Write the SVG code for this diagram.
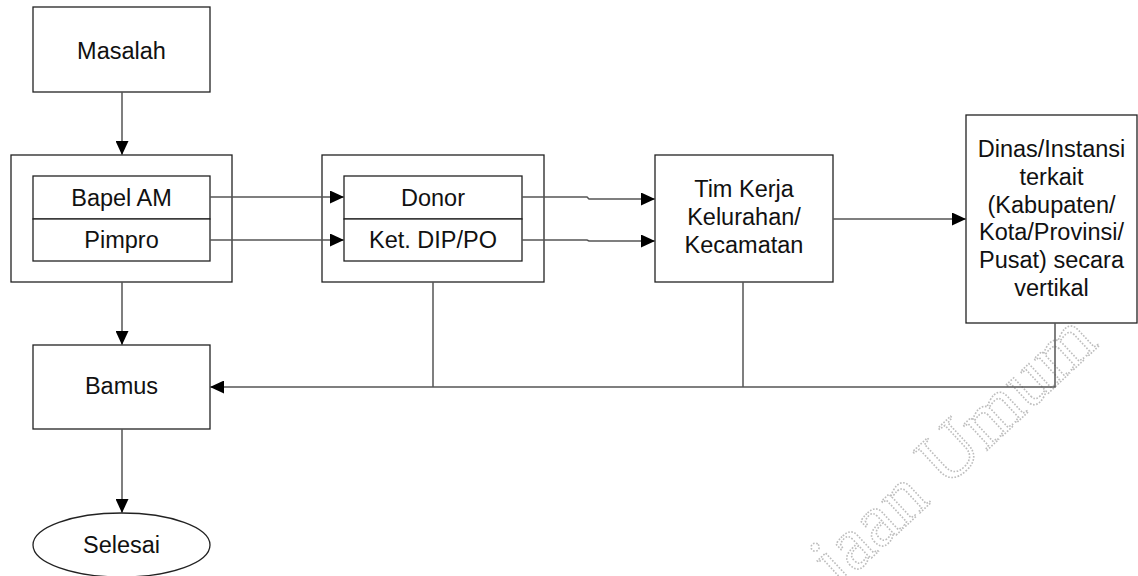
<svg xmlns="http://www.w3.org/2000/svg" width="1138" height="576" viewBox="0 0 1138 576">
<style>
.box{fill:#fff;stroke:#222;stroke-width:1.3}
.t{font-family:"Liberation Sans",Arial,sans-serif;font-size:23.5px;fill:#111;text-anchor:middle}
.c{fill:none;stroke:#555;stroke-width:1.5}
.wm{font-family:"Liberation Serif","Times New Roman",serif;font-size:76px;fill:none;stroke:#bdbdbd;stroke-width:1.6;stroke-dasharray:1.6 1.6}
</style>
<defs>
<marker id="ah" markerUnits="userSpaceOnUse" markerWidth="14" markerHeight="13" refX="14" refY="6.5" orient="auto">
<path d="M0,0 L14,6.5 L0,13 z" fill="#000"/>
</marker>
</defs>
<rect width="1138" height="576" fill="#fff"/>
<text class="wm" transform="translate(1100,345) rotate(-43)" text-anchor="end">jaan Umum</text>
<g id="masalah">
<rect class="box" x="33" y="7" width="177" height="85"/>
<text class="t" x="121.5" y="59">Masalah</text>
</g>
<g id="group-bapel">
<rect class="box" x="11" y="155" width="221" height="127"/>
<g id="bapel">
<rect class="box" x="33" y="176" width="177" height="43"/>
<text class="t" x="121.5" y="206">Bapel AM</text>
</g>
<g id="pimpro">
<rect class="box" x="33" y="219" width="177" height="42"/>
<text class="t" x="121.5" y="248">Pimpro</text>
</g>
</g>
<g id="group-donor">
<rect class="box" x="322" y="155" width="222" height="127"/>
<g id="donor">
<rect class="box" x="344" y="176" width="178" height="43"/>
<text class="t" x="433" y="206">Donor</text>
</g>
<g id="ketdip">
<rect class="box" x="344" y="219" width="178" height="42"/>
<text class="t" x="433" y="248">Ket. DIP/PO</text>
</g>
</g>
<g id="timkerja">
<rect class="box" x="655" y="155" width="178" height="127"/>
<text class="t" x="744" y="197">Tim Kerja</text>
<text class="t" x="744" y="225">Kelurahan/</text>
<text class="t" x="744" y="253">Kecamatan</text>
</g>
<g id="dinas">
<rect class="box" x="966" y="115" width="171" height="208"/>
<text class="t" x="1051.5" y="157">Dinas/Instansi</text>
<text class="t" x="1051.5" y="185">terkait</text>
<text class="t" x="1051.5" y="213">(Kabupaten/</text>
<text class="t" x="1051.5" y="240">Kota/Provinsi/</text>
<text class="t" x="1051.5" y="268">Pusat) secara</text>
<text class="t" x="1051.5" y="296">vertikal</text>
</g>
<g id="bamus">
<rect class="box" x="33" y="345" width="177" height="84"/>
<text class="t" x="121.5" y="394">Bamus</text>
</g>
<g id="selesai">
<ellipse class="box" cx="121.5" cy="545" rx="88.5" ry="32"/>
<text class="t" x="121.5" y="553">Selesai</text>
</g>
<g id="connectors">
<path class="c" d="M122,92 V155" marker-end="url(#ah)"/>
<path class="c" d="M210,197 H344" marker-end="url(#ah)"/>
<path class="c" d="M210,240 H344" marker-end="url(#ah)"/>
<path class="c" d="M522,197 H587 L589,199 H655" marker-end="url(#ah)"/>
<path class="c" d="M522,240 H587 L589,241 H655" marker-end="url(#ah)"/>
<path class="c" d="M833,219 H966" marker-end="url(#ah)"/>
<path class="c" d="M122,282 V345" marker-end="url(#ah)"/>
<path class="c" d="M1055,323 V387 H210" marker-end="url(#ah)"/>
<path class="c" d="M433,282 V387"/>
<path class="c" d="M743,282 V387"/>
<path class="c" d="M122,429 V513" marker-end="url(#ah)"/>
</g>
</svg>
